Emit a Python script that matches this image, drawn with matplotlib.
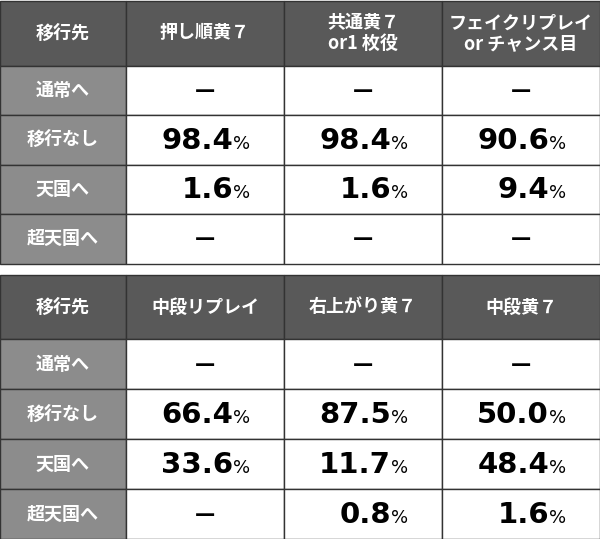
import matplotlib.pyplot as plt
from matplotlib.patches import Rectangle

plt.rcParams['font.family'] = ['Noto Sans CJK JP', 'DejaVu Sans']

row_labels = ['通常へ', '移行なし', '天国へ', '超天国へ']
top_heads = ['押し順黄７', '共通黄７\nor1 枚役', 'フェイクリプレイ\nor チャンス目']
top_vals = [[None, None, None],
            ['98.4', '98.4', '90.6'],
            ['1.6', '1.6', '9.4'],
            [None, None, None]]
bot_heads = ['中段リプレイ', '右上がり黄７', '中段黄７']
bot_vals = [[None, None, None],
            ['66.4', '87.5', '50.0'],
            ['33.6', '11.7', '48.4'],
            [None, '0.8', '1.6']]

W, H = 600, 539
fig = plt.figure(figsize=(6, 5.39), dpi=100)
ax = fig.add_axes([0, 0, 1, 1])
ax.set_xlim(0, W)
ax.set_ylim(H, 0)
ax.axis('off')

cols = [0, 126, 284, 442, 600]
head_bg = '#595959'
lab_bg = '#8c8c8c'
line = '#333333'


def draw_table(y0, head_h, row_h, heads, vals):
    ys = [y0, y0 + head_h] + [y0 + head_h + row_h * (i + 1) for i in range(4)]
    # header row
    for c in range(4):
        ax.add_patch(Rectangle((cols[c], ys[0]), cols[c + 1] - cols[c], head_h,
                               facecolor=head_bg, edgecolor=line, lw=1))
    txt = ['移行先'] + heads
    for c, t in enumerate(txt):
        ax.text((cols[c] + cols[c + 1]) / 2, ys[0] + head_h / 2, t, color='white',
                ha='center', va='center', fontsize=13, fontweight='bold', linespacing=1.1)
    for r in range(4):
        top = ys[r + 1]
        ax.add_patch(Rectangle((cols[0], top), cols[1] - cols[0], row_h,
                               facecolor=lab_bg, edgecolor=line, lw=1))
        ax.text((cols[0] + cols[1]) / 2, top + row_h / 2, row_labels[r], color='white',
                ha='center', va='center', fontsize=13, fontweight='bold')
        for c in range(3):
            x0 = cols[c + 1]
            ax.add_patch(Rectangle((x0, top), cols[c + 2] - x0, row_h,
                                   facecolor='white', edgecolor=line, lw=1))
            v = vals[r][c]
            cy = top + row_h / 2
            if v is None:
                ax.text(x0 + 79, cy, '—', ha='center', va='center', fontsize=16,
                        fontweight='bold', color='black')
            else:
                ax.text(x0 + 107, cy + 1, v, ha='right', va='center', fontsize=21,
                        fontweight='bold', color='black', family='DejaVu Sans')
                ax.text(x0 + 107, cy + 4, '%', ha='left', va='center', fontsize=13,
                        color='black', family='DejaVu Sans')


draw_table(0.5, 65, 49.5, top_heads, top_vals)
draw_table(275, 64, 50, bot_heads, bot_vals)

fig.savefig('out.png', dpi=100)
